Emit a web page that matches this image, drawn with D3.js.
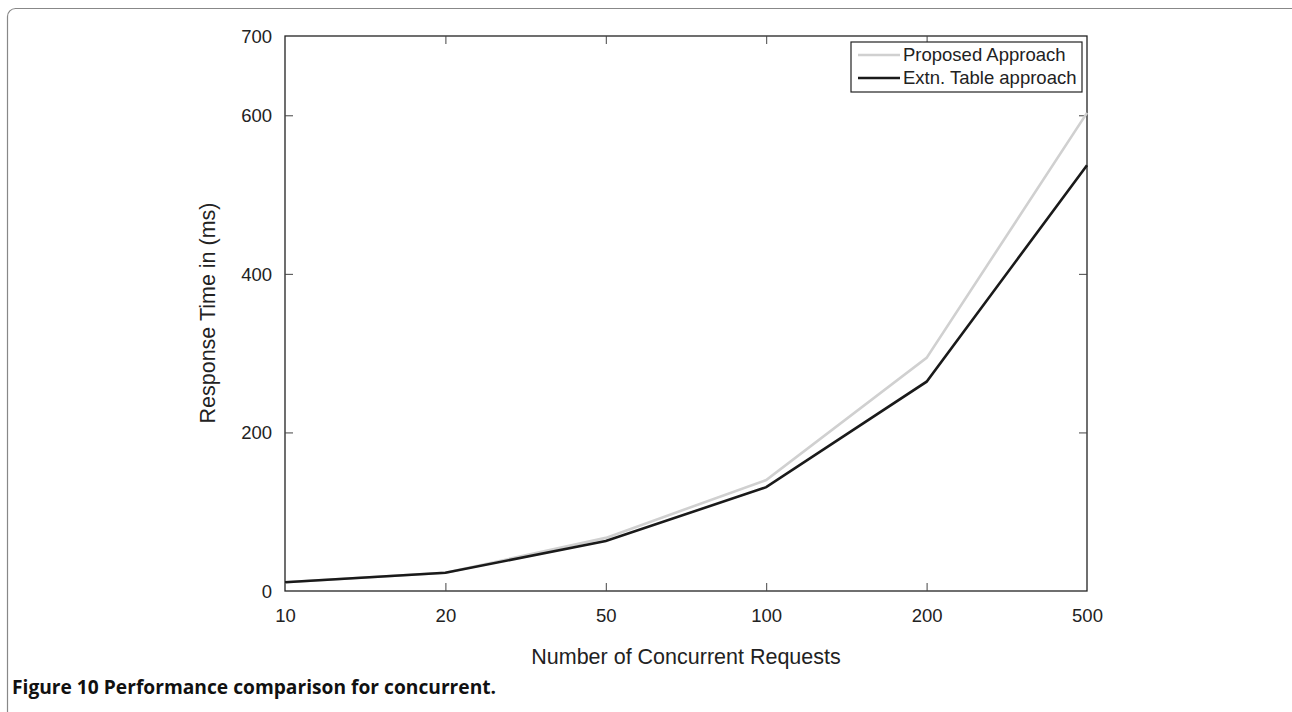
<!DOCTYPE html>
<html><head><meta charset="utf-8">
<script src="https://cdn.jsdelivr.net/npm/d3@7"></script>
<style>body{margin:0;background:#fff;} svg{display:block;}</style>
</head><body>
<svg id="c" width="1292" height="712"></svg>
<script>
const categories = ["10","20","50","100","200","500"];
const proposed = [11, 23, 67, 140, 294, 603];
const extn = [11, 23, 63, 131, 264, 537];
const yTicks = [0, 200, 400, 600, 700];
const seriesNames = ["Proposed Approach", "Extn. Table approach"];
const seriesColors = ["#d0d0d0", "#1a1a1a"];

const svg = d3.select("#c");
const font = "'Liberation Sans', Arial, Helvetica, sans-serif";
const L = 285, R = 1087, T = 36, B = 591;

// frame
svg.append("rect").attr("x", 7.5).attr("y", 8.5).attr("width", 1320).attr("height", 740)
  .attr("rx", 8).attr("fill", "none").attr("stroke", "#888").attr("stroke-width", 1.2);

const x = d3.scalePoint().domain(categories).range([L, R]);
const y = d3.scaleLinear().domain([0, 700]).range([B, T]);

const g = svg.append("g");
// box
g.append("rect").attr("x", L).attr("y", T).attr("width", R - L).attr("height", B - T)
  .attr("fill", "none").attr("stroke", "#222").attr("stroke-width", 1.3);

const tl = 8;
const xb = g.append("g").attr("transform", `translate(0,${B})`)
  .call(d3.axisBottom(x).tickSizeInner(-tl).tickSizeOuter(0).tickPadding(18));
const xt = g.append("g").attr("transform", `translate(0,${T})`)
  .call(d3.axisTop(x).tickSizeInner(-tl).tickSizeOuter(0).tickFormat(""));
const yl = g.append("g").attr("transform", `translate(${L},0)`)
  .call(d3.axisLeft(y).tickValues(yTicks).tickSizeInner(-tl).tickSizeOuter(0).tickPadding(13).tickFormat(d3.format("d")));
const yr = g.append("g").attr("transform", `translate(${R},0)`)
  .call(d3.axisRight(y).tickValues(yTicks).tickSizeInner(-tl).tickSizeOuter(0).tickFormat(""));
[xb, xt, yl, yr].forEach(a => {
  a.select(".domain").remove();
  a.selectAll("line").attr("stroke", "#444").attr("stroke-width", 1);
  a.selectAll("text").attr("font-family", font).attr("font-size", 18.5).attr("fill", "#222");
});
// hide ticks at ends coinciding with box edges
xb.selectAll(".tick").filter(d => d === "10" || d === "500").select("line").remove();
xt.selectAll(".tick").filter(d => d === "10" || d === "500").select("line").remove();
yl.selectAll(".tick").filter(d => d === 0 || d === 700).select("line").remove();
yr.selectAll(".tick").filter(d => d === 0 || d === 700).select("line").remove();
yl.selectAll("text").attr("dy", "0.35em");

const line = d3.line().x((d, i) => x(categories[i])).y(d => y(d));
[proposed, extn].forEach((s, i) => {
  g.append("path").datum(s).attr("d", line).attr("fill", "none")
    .attr("stroke", seriesColors[i]).attr("stroke-width", 2.6).attr("stroke-linejoin", "miter");
});

// legend
const lg = g.append("g");
lg.append("rect").attr("x", 851).attr("y", 42).attr("width", 231).attr("height", 50)
  .attr("fill", "#fff").attr("stroke", "#222").attr("stroke-width", 1.2);
seriesNames.forEach((n, i) => {
  const yy = 55 + i * 23;
  lg.append("line").attr("x1", 858).attr("x2", 900).attr("y1", yy).attr("y2", yy)
    .attr("stroke", seriesColors[i]).attr("stroke-width", 2.6);
  lg.append("text").attr("x", 903).attr("y", yy).attr("dy", "0.35em")
    .attr("font-family", font).attr("font-size", 18.5).attr("fill", "#222").text(n);
});

// axis labels
svg.append("text").attr("x", 686).attr("y", 664).attr("text-anchor", "middle")
  .attr("font-family", font).attr("font-size", 21.5).attr("fill", "#222").text("Number of Concurrent Requests");
svg.append("text").attr("transform", "translate(215,313) rotate(-90)").attr("text-anchor", "middle")
  .attr("font-family", font).attr("font-size", 21.5).attr("fill", "#222").text("Response Time in (ms)");

// caption
svg.append("text").attr("x", 12).attr("y", 694)
  .attr("font-family", "'Open Sans', 'Noto Sans', sans-serif").attr("font-size", 19.2)
  .attr("font-weight", "bold").attr("fill", "#111").text("Figure 10 Performance comparison for concurrent.");
</script>
</body></html>
